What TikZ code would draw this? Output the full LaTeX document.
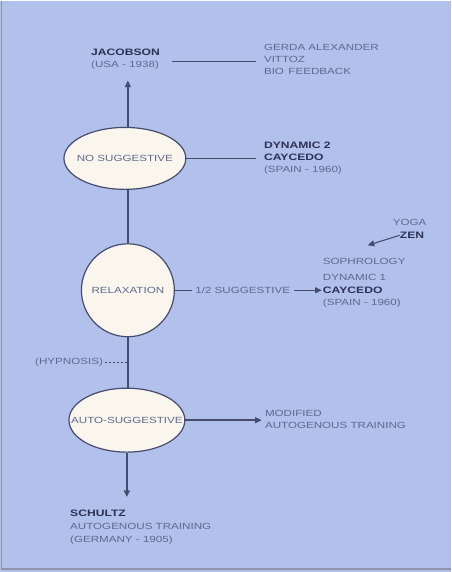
\documentclass[tikz,border=0pt]{standalone}
\usepackage{fontspec}
\setmainfont[FakeStretch=1.3]{Liberation Sans}
\usetikzlibrary{shapes.geometric,arrows.meta}
\definecolor{bg}{RGB}{178,192,236}
\definecolor{ink}{RGB}{70,76,110}
\definecolor{txt}{RGB}{95,105,140}
\definecolor{bold}{RGB}{45,50,85}
\definecolor{cream}{RGB}{250,246,238}
\begin{document}
\begin{tikzpicture}[x=0.75pt,y=-0.75pt,
  every node/.style={font=\fontsize{6.7}{8}\selectfont},
  conn/.style={draw=ink,line width=1pt},
  arr/.style={conn,-{Triangle[length=5pt,width=4.5pt]}},
  hub/.style={draw=ink,line width=0.9pt,fill=cream,text=txt,inner sep=0pt},
  hublbl/.style={label={[text=txt,inner sep=0pt]center:#1}},
  lbl/.style={text=txt,align=left,anchor=west,inner sep=0pt},
  blk/.style={text=bold,font=\fontsize{7}{8}\selectfont\bfseries,inner sep=0pt,anchor=west}]
\fill[bg] (0,0) rectangle (451,572);
\draw[ink!60,line width=0.8pt] (1.5,0) -- (1.5,569) -- (451,569);
\useasboundingbox (0,0) rectangle (451,572);
% hubs
\node[hub,ellipse,minimum width=122pt*0.75,minimum height=62pt*0.75,hublbl={NO SUGGESTIVE}] (nosug) at (125,158) {};
\node[hub,circle,minimum size=93pt*0.75,hublbl={RELAXATION}] (relax) at (128,290) {};
\node[hub,ellipse,minimum width=116pt*0.75,minimum height=64pt*0.75,hublbl={AUTO-SUGGESTIVE}] (auto) at (127,420) {};
% Jacobson
\node[blk] (jac) at (91,52) {JACOBSON};
\node[lbl] (jacd) at (91,65) {(USA - 1938)};
\coordinate (jtip) at (128,80);
\draw[arr] (nosug.north -| jtip) -- (jtip);
\coordinate (jr) at (172,61);
\coordinate (gl) at (256,61);
\draw[conn] (jr) -- (gl);
\node[lbl] (gerda) at (264,47) {GERDA ALEXANDER};
\node[lbl] (vittoz) at (264,59) {VITTOZ};
\node[lbl] (bio) at (264,71) {BIO\enspace FEEDBACK};
% Dynamic 2
\coordinate (d2l) at (256,158);
\draw[conn] (nosug.east) -- (d2l);
\node[blk] (dyn2) at (264,145) {DYNAMIC 2};
\node[blk] (cay2) at (264,157) {CAYCEDO};
\node[lbl] (sp2) at (264,170) {(SPAIN - 1960)};
% vertical trunk
\draw[conn] (nosug.south -| relax.north) -- (relax.north);
\draw[conn] (relax.south) -- (relax.south |- auto.north);
% relaxation branch
\node[lbl,anchor=center] (half) at (243,290) {1/2 SUGGESTIVE};
\coordinate (ctip) at (322,290);
\draw[conn] (relax.east) -- ([xshift=-2pt]half.west);
\draw[arr] ([xshift=3pt]half.east) -- (ctip);
\node[lbl] (yoga) at (393,222) {YOGA};
\node[blk] (zen) at (400,235) {ZEN};
\coordinate (ztip) at (368,245);
\draw[arr,line width=0.8pt] (zen.west) -- (ztip);
\node[lbl] (soph) at (323,261) {SOPHROLOGY};
\node[lbl] (dyn1) at (323,277) {DYNAMIC 1};
\node[blk] (cay1) at (323,290) {CAYCEDO};
\node[lbl] (sp1) at (323,303) {(SPAIN - 1960)};
% hypnosis
\node[lbl] (hyp) at (35,362) {(HYPNOSIS)};
\coordinate (hj) at (127,362);
\draw[ink,line width=0.8pt,dash pattern=on 2pt off 1pt] ([xshift=1pt]hyp.east) -- (hj);
% auto-suggestive branch
\coordinate (mtip) at (262,420);
\draw[arr] (auto.east) -- (mtip);
\node[lbl] (mod) at (265,413) {MODIFIED};
\node[lbl] (agt) at (265,425) {AUTOGENOUS TRAINING};
% schultz
\coordinate (stip) at (127,497);
\draw[arr] (auto.south) -- (stip);
\node[blk] (sch) at (70,513) {SCHULTZ};
\node[lbl] (agt2) at (70,526) {AUTOGENOUS TRAINING};
\node[lbl] (ger) at (70,540) {(GERMANY - 1905)};
\end{tikzpicture}
\end{document}
